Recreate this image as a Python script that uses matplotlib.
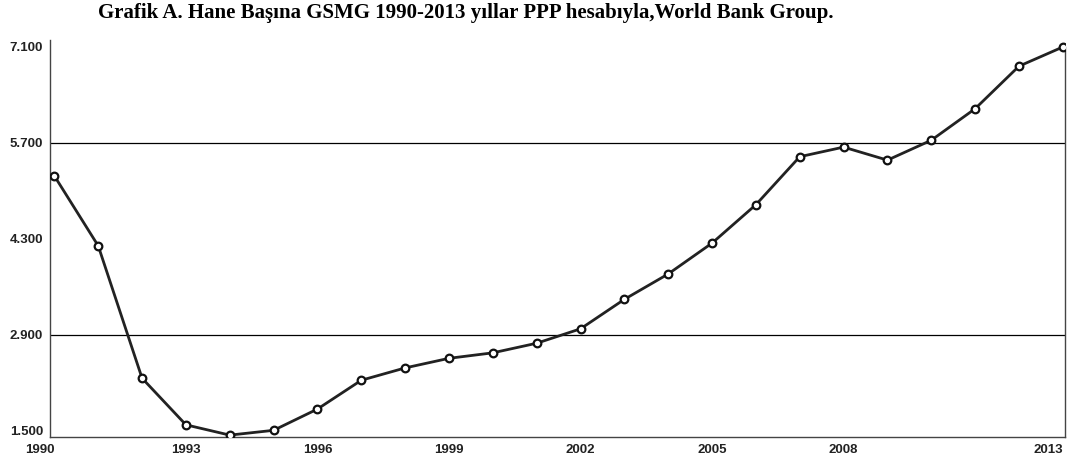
import matplotlib.pyplot as plt
import numpy as np

years = list(range(1990, 2014))
gdp_pc = [5.22, 4.20, 2.27, 1.59, 1.44, 1.51, 1.82, 2.24, 2.42, 2.56, 2.64, 2.78,
          2.99, 3.42, 3.79, 4.24, 4.80, 5.50, 5.64, 5.45, 5.74, 6.20, 6.82, 7.10]
ytick_vals = [1.5, 2.9, 4.3, 5.7, 7.1]
ytick_labels = ['1.500', '2.900', '4.300', '5.700', '7.100']
grid_vals = [2.9, 5.7]
xtick_years = [1990, 1993, 1996, 1999, 2002, 2005, 2008, 2013]

title = 'Grafik A. Hane Başına GSMG 1990-2013 yıllar PPP hesabıyla,World Bank Group.'

fig = plt.figure(figsize=(10.7, 4.65), dpi=100)
ax = fig.add_axes([50 / 1070, 28 / 465, 1015 / 1070, 397 / 465])

for g in grid_vals:
    ax.axhline(g, color='black', linewidth=0.9, zorder=1)

ax.plot(years, gdp_pc, color='#222222', linewidth=2.0, marker='o', markersize=5.5,
        markerfacecolor='white', markeredgecolor='#111111', markeredgewidth=1.6, zorder=3)

ax.set_xlim(1989.9, 2013.05)
ax.set_ylim(1.4125, 7.202)

ax.set_yticks(ytick_vals)
ax.set_yticklabels(ytick_labels, fontfamily='Liberation Sans', fontweight='bold',
                   fontsize=9.5, color='#222222')
ax.set_xticks(xtick_years)
ax.set_xticklabels([str(y) for y in xtick_years], fontfamily='Liberation Sans',
                   fontweight='bold', fontsize=9.5, color='#222222')
ax.get_xticklabels()[0].set_ha('right')
ax.get_xticklabels()[-1].set_ha('right')
ax.tick_params(axis='y', length=0, pad=5)
ax.tick_params(axis='x', length=0, pad=5)

ax.spines['top'].set_visible(False)
for s in ['left', 'bottom', 'right']:
    ax.spines[s].set_color('#444444')
    ax.spines[s].set_linewidth(1.0)
ax.spines['right'].set_bounds(1.4125, 7.1)

fig.text(0.435, 0.972, title, ha='center', va='center', fontfamily='Liberation Serif',
         fontweight='bold', fontsize=15)

fig.savefig('out.png', dpi=100)
